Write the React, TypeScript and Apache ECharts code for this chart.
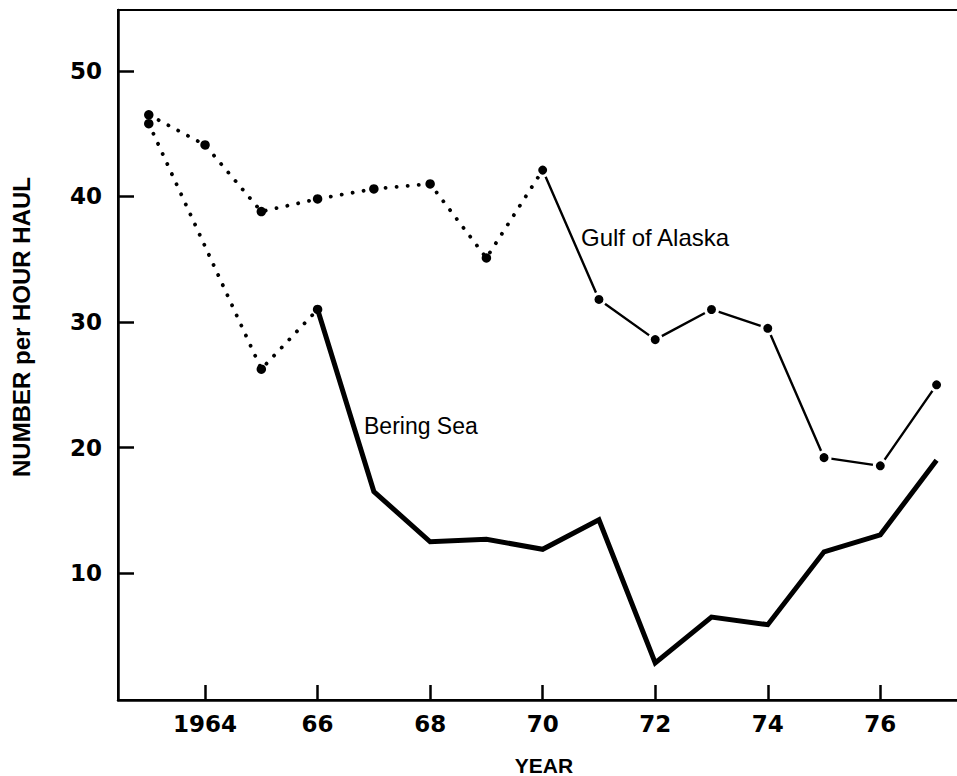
import React, { useEffect, useRef } from "react";
import * as echarts from "echarts";

const years = [1963, 1964, 1965, 1966, 1967, 1968, 1969, 1970, 1971, 1972, 1973, 1974, 1975, 1976, 1977];
const gulfOfAlaska = [46.5, 44.1, 38.8, 39.8, 40.6, 41.0, 35.1, 42.1, 31.8, 28.6, 31.0, 29.5, 19.2, 18.55, 25.0];
const beringSea = [45.8, null, 26.25, 31.0, 16.5, 12.5, 12.7, 11.9, 14.25, 2.85, 6.5, 5.9, 11.7, 13.05, 19.0];
const xTickValues = [1964, 1966, 1968, 1970, 1972, 1974, 1976];
const xTickLabels = ["1964", "66", "68", "70", "72", "74", "76"];
const yTickValues = [10, 20, 30, 40, 50];
const yTickLabels = ["10", "20", "30", "40", "50"];

// index where the records switch from dotted to solid
const gulfSolidFrom = 7; // 1970
const beringSolidFrom = 3; // 1966

const pairs = (vals: (number | null)[], from: number, to: number) =>
  years
    .slice(from, to + 1)
    .map((y, i) => [y, vals[from + i]])
    .filter((p) => p[1] !== null);

export default function App() {
  const ref = useRef<HTMLDivElement>(null);
  useEffect(() => {
    if (!ref.current) return;
    const chart = echarts.init(ref.current, null, { renderer: "svg" });
    const dotted = { type: [0.1, 11], cap: "round", width: 3.8, color: "#000" };
    chart.setOption({
      animation: false,
      backgroundColor: "#fff",
      grid: {
        left: 118,
        top: 10,
        right: -4,
        bottom: 76,
        outerBoundsMode: "none",
        containLabel: false,
        show: true,
        borderColor: "#000",
        borderWidth: 2,
        backgroundColor: "transparent",
      },
      xAxis: {
        type: "value",
        min: 1962.453,
        max: 1977.434,
        axisLine: { show: true, onZero: false, lineStyle: { color: "#000", width: 2.5 } },
        axisTick: {
          show: true,
          inside: true,
          length: 15,
          customValues: xTickValues,
          lineStyle: { color: "#000", width: 2.5 },
        },
        axisLabel: {
          customValues: xTickValues,
          formatter: (v: number) => xTickLabels[xTickValues.indexOf(v)] ?? "",
          color: "#000",
          fontFamily: "DejaVu Sans",
          fontWeight: "bold",
          fontSize: 23,
          margin: 12,
        },
        splitLine: { show: false },
      },
      yAxis: {
        type: "value",
        min: -0.1,
        max: 54.85,
        axisLine: { show: true, onZero: false, lineStyle: { color: "#000", width: 2.5 } },
        axisTick: {
          show: true,
          inside: true,
          length: 16,
          customValues: yTickValues,
          lineStyle: { color: "#000", width: 2.5 },
        },
        axisLabel: {
          customValues: yTickValues,
          formatter: (v: number) => yTickLabels[yTickValues.indexOf(v)] ?? "",
          color: "#000",
          fontFamily: "DejaVu Sans",
          fontWeight: "bold",
          fontSize: 23,
          margin: 16,
        },
        splitLine: { show: false },
      },
      series: [
        {
          name: "Bering Sea (dotted)",
          type: "line",
          data: pairs(beringSea, 0, beringSolidFrom),
          lineStyle: dotted,
          symbol: "circle",
          symbolSize: 9.5,
          itemStyle: { color: "#000", borderWidth: 0 },
          z: 2,
        },
        {
          name: "Bering Sea",
          type: "line",
          data: pairs(beringSea, beringSolidFrom, years.length - 1),
          lineStyle: { color: "#000", width: 5, join: "miter" },
          symbol: "none",
          z: 2,
        },
        {
          name: "Gulf of Alaska (dotted)",
          type: "line",
          data: pairs(gulfOfAlaska, 0, gulfSolidFrom),
          lineStyle: dotted,
          symbol: "circle",
          symbolSize: 9.5,
          itemStyle: { color: "#000", borderWidth: 0 },
          z: 3,
        },
        {
          name: "Gulf of Alaska",
          type: "line",
          data: pairs(gulfOfAlaska, gulfSolidFrom, years.length - 1),
          lineStyle: { color: "#000", width: 2.4 },
          symbol: "circle",
          symbolSize: 12,
          itemStyle: { color: "#000", borderColor: "#fff", borderWidth: 3 },
          z: 4,
        },
      ],
      graphic: [
        {
          type: "text",
          x: 581,
          y: 237,
          style: {
            text: "Gulf of Alaska",
            fill: "#000",
            font: "24px 'Liberation Sans', Arial, sans-serif",
            textAlign: "left",
            textVerticalAlign: "middle",
          },
        },
        {
          type: "text",
          x: 364,
          y: 426,
          style: {
            text: "Bering Sea",
            fill: "#000",
            font: "23px 'Liberation Sans', Arial, sans-serif",
            textAlign: "left",
            textVerticalAlign: "middle",
          },
        },
        {
          type: "text",
          x: 544,
          y: 765,
          style: {
            text: "YEAR",
            fill: "#000",
            font: "bold 21px 'Liberation Sans', Arial, sans-serif",
            textAlign: "center",
            textVerticalAlign: "middle",
          },
        },
        {
          type: "text",
          x: 21,
          y: 327,
          rotation: Math.PI / 2,
          style: {
            text: "NUMBER per HOUR HAUL",
            fill: "#000",
            font: "bold 24px 'Liberation Sans', Arial, sans-serif",
            textAlign: "center",
            textVerticalAlign: "middle",
          },
        },
      ],
    });
    return () => chart.dispose();
  }, []);
  return (
    <div
      ref={ref}
      style={{ position: "absolute", left: 0, top: 0, width: 957, height: 776 }}
    />
  );
}
